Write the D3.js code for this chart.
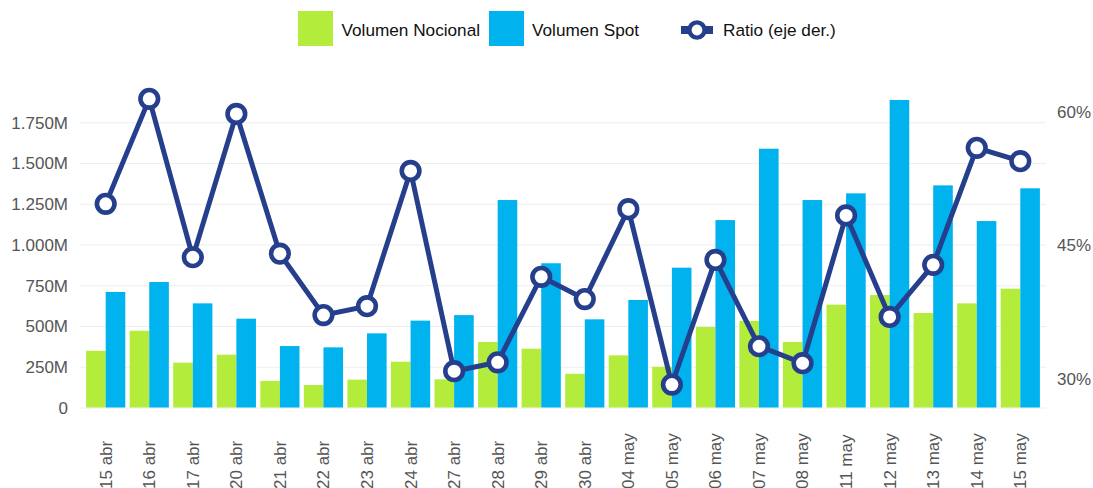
<!DOCTYPE html>
<html><head><meta charset="utf-8">
<script src="https://cdn.jsdelivr.net/npm/d3@7"></script>
<style>body{margin:0;background:#fff}svg{display:block}text{font-family:"Liberation Sans",Arial,sans-serif}</style>
</head><body>
<svg id="c" width="1093" height="488"></svg>
<script>
const categories = ["15 abr","16 abr","17 abr","20 abr","21 abr","22 abr","23 abr","24 abr","27 abr","28 abr","29 abr","30 abr","04 may","05 may","06 may","07 may","08 may","11 may","12 may","13 may","14 may","15 may"];
const nocional = [348,471,275,324,163,138,171,281,173,402,361,207,320,250,494,531,402,631,690,580,639,729];
const spot = [709,770,639,545,377,369,455,533,567,1273,885,541,660,858,1150,1588,1273,1314,1887,1363,1144,1345];
const ratio = [0.496,0.614,0.436,0.597,0.440,0.371,0.381,0.533,0.308,0.318,0.414,0.389,0.490,0.293,0.433,0.336,0.317,0.483,0.369,0.4275,0.559,0.544];
const leftTicks = [0,250,500,750,1000,1250,1500,1750];
const leftTickLabels = ["0","250M","500M","750M","1.000M","1.250M","1.500M","1.750M"];
const rightTicks = [0.30,0.45,0.60];
const rightTickLabels = ["30%","45%","60%"];
const seriesNames = ["Volumen Nocional","Volumen Spot","Ratio (eje der.)"];

const C_GREEN="#b3ec3b", C_BLUE="#00b2ee", C_LINE="#263f8c";
const AX="#555", FS=17;
const svg = d3.select("#c");
const x0=80, x1=1046;
const x = d3.scaleBand().domain(categories).range([x0,x1]).paddingInner(0.1).paddingOuter(0.14);
const xs = d3.scaleBand().domain([0,1]).range([0,x.bandwidth()]);
const yL = d3.scaleLinear().domain([0,1750]).range([407.5,122.3]);
const yR = d3.scaleLinear().domain([0.30,0.60]).range([378.3,111.3]);

// gridlines
svg.append("g").selectAll("line").data(leftTicks).join("line")
  .attr("x1",x0).attr("x2",x1).attr("y1",d=>yL(d)+0.5).attr("y2",d=>yL(d)+0.5)
  .attr("stroke","#eeeeee").attr("stroke-width",1);

// left axis
const axL = d3.axisLeft(yL).tickValues(leftTicks).tickFormat((d,i)=>leftTickLabels[i]).tickSize(0).tickPadding(0);
const gL = svg.append("g").attr("transform","translate(68,0)").call(axL);
gL.select(".domain").remove();
gL.selectAll("text").attr("font-size",FS).attr("fill",AX).attr("dy","0.35em").attr("font-family","Liberation Sans, Arial, sans-serif");

// right axis
const axR = d3.axisRight(yR).tickValues(rightTicks).tickFormat((d,i)=>rightTickLabels[i]).tickSize(0).tickPadding(0);
const gR = svg.append("g").attr("transform","translate(1057,0)").call(axR);
gR.select(".domain").remove();
gR.selectAll("text").attr("font-size",FS).attr("fill",AX).attr("dy","0.35em").attr("font-family","Liberation Sans, Arial, sans-serif");

// bars
const g = svg.append("g");
const grp = g.selectAll("g").data(categories).join("g").attr("transform",d=>`translate(${x(d)},0)`);
grp.append("rect").attr("x",xs(0)).attr("width",x.bandwidth()/2)
  .attr("y",(d,i)=>yL(nocional[i])).attr("height",(d,i)=>yL(0)-yL(nocional[i])).attr("fill",C_GREEN);
grp.append("rect").attr("x",x.bandwidth()/2).attr("width",x.bandwidth()/2)
  .attr("y",(d,i)=>yL(spot[i])).attr("height",(d,i)=>yL(0)-yL(spot[i])).attr("fill",C_BLUE);

// x labels
svg.append("g").selectAll("text").data(categories).join("text")
  .attr("transform",d=>`translate(${x(d)+x.bandwidth()/2},489) rotate(-90)`)
  .attr("dy","0.35em").attr("text-anchor","start").attr("font-size",FS).attr("fill",AX).text(d=>d);

// line
const cx = (d,i)=>x(categories[i])+x.bandwidth()/2;
const line = d3.line().x((d,i)=>cx(d,i)).y(d=>yR(d));
svg.append("path").datum(ratio).attr("d",line).attr("fill","none").attr("stroke",C_LINE).attr("stroke-width",5).attr("stroke-linejoin","round");
svg.append("g").selectAll("circle").data(ratio).join("circle")
  .attr("cx",cx).attr("cy",d=>yR(d)).attr("r",8.8).attr("fill","#fff").attr("stroke",C_LINE).attr("stroke-width",4.6);

// legend
const LFS=17.2, LY=30;
const lg = svg.append("g");
lg.append("rect").attr("x",298).attr("y",11).attr("width",35).attr("height",35).attr("fill",C_GREEN);
lg.append("text").attr("x",341.5).attr("y",LY).attr("dy","0.35em").attr("font-size",LFS).attr("fill","#111").text(seriesNames[0]);
lg.append("rect").attr("x",489).attr("y",11).attr("width",35).attr("height",35).attr("fill",C_BLUE);
lg.append("text").attr("x",532).attr("y",LY).attr("dy","0.35em").attr("font-size",LFS).attr("fill","#111").text(seriesNames[1]);
lg.append("line").attr("x1",681).attr("x2",713).attr("y1",LY).attr("y2",LY).attr("stroke",C_LINE).attr("stroke-width",8);
lg.append("circle").attr("cx",697).attr("cy",LY).attr("r",7.6).attr("fill","#fff").attr("stroke",C_LINE).attr("stroke-width",4.4);
lg.append("text").attr("x",723).attr("y",LY).attr("dy","0.35em").attr("font-size",LFS).attr("fill","#111").text(seriesNames[2]);
</script>
</body></html>
